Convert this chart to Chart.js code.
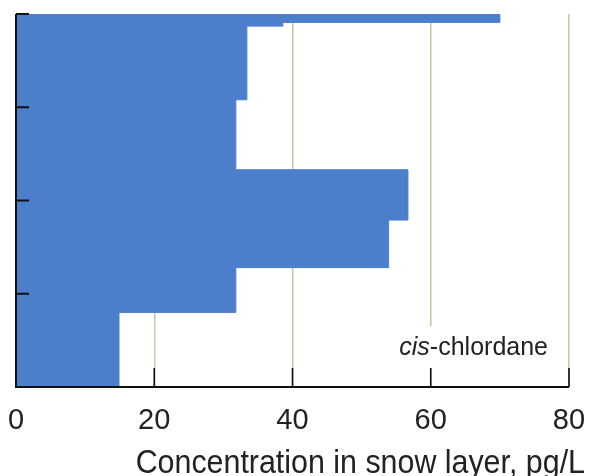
<!DOCTYPE html>
<html>
<head>
<meta charset="utf-8">
<script src="https://cdn.jsdelivr.net/npm/chart.js@4.4.1/dist/chart.umd.min.js"></script>
<style>
  html, body { margin: 0; padding: 0; background: #fff; }
  #wrap { width: 591px; height: 476px; position: relative; }
</style>
</head>
<body>
<div id="wrap"><canvas id="c"></canvas></div>
<script>
// Depth at the top of each snow layer, and the bottom of the profile
const layerTop = [0, 0.9, 1.3, 9.2, 16.7, 22.1, 27.2, 32.0];
const profileBottom = 40;
// cis-chlordane concentration in each layer, pg/L
const concentration = [70.0, 38.6, 33.4, 31.8, 56.7, 53.9, 31.8, 14.9];
// Axis ticks
const xTicks = [0, 20, 40, 60, 80];
const depthTicks = [0, 10, 20, 30];
const compoundLabel = ['cis', '-chlordane'];
const axisTitle = 'Concentration in snow layer, pg/L';

const FONT = '"Liberation Sans", Arial, Helvetica, sans-serif';
const BAR_BLUE = '#4b7fcc';
const GRID_BEIGE = '#c8c5a7';

// Stepped profile: one point at the top of every layer, plus the profile bottom
const profilePoints = layerTop.map((d, i) => ({ x: concentration[i], y: d }));
profilePoints.push({ x: concentration[concentration.length - 1], y: profileBottom });

// Axis lines, inward tick marks, the compound label and the axis title
const profileFrame = {
  id: 'profileFrame',
  afterDatasetsDraw(chart) {
    const { ctx, chartArea: a, scales: { x, y } } = chart;
    ctx.save();

    // compound label on a white box
    ctx.font = 'italic 25px ' + FONT;
    const w1 = ctx.measureText(compoundLabel[0]).width;
    ctx.font = '25px ' + FONT;
    const w2 = ctx.measureText(compoundLabel[1]).width;
    const right = a.right - 21;
    const base = a.bottom - 32;
    ctx.fillStyle = '#fff';
    ctx.fillRect(right - w1 - w2 - 6, a.bottom - 61, w1 + w2 + 12, 42);
    ctx.fillStyle = '#222';
    ctx.textBaseline = 'alphabetic';
    ctx.textAlign = 'left';
    ctx.font = 'italic 25px ' + FONT;
    ctx.fillText(compoundLabel[0], right - w1 - w2, base);
    ctx.font = '25px ' + FONT;
    ctx.fillText(compoundLabel[1], right - w2, base);

    // axis lines
    ctx.strokeStyle = '#111';
    ctx.lineWidth = 2;
    ctx.beginPath();
    ctx.moveTo(a.left, a.top);
    ctx.lineTo(a.left, a.bottom);
    ctx.lineTo(a.right, a.bottom);
    ctx.stroke();

    // depth ticks pointing into the plot
    ctx.beginPath();
    depthTicks.forEach(d => {
      const py = y.getPixelForValue(d);
      ctx.moveTo(a.left, py);
      ctx.lineTo(a.left + 13, py);
    });
    ctx.stroke();

    // concentration ticks pointing up
    ctx.lineWidth = 1.6;
    ctx.beginPath();
    xTicks.slice(1).forEach(v => {
      const px = x.getPixelForValue(v);
      ctx.moveTo(px, a.bottom);
      ctx.lineTo(px, a.bottom - 19);
    });
    ctx.stroke();
    ctx.restore();
  },
  afterDraw(chart) {
    const { ctx } = chart;
    ctx.save();
    ctx.font = '30.4px ' + FONT;
    ctx.fillStyle = '#222';
    ctx.textAlign = 'right';
    ctx.textBaseline = 'alphabetic';
    // slightly tall lettering for the axis title
    ctx.translate(chart.width - 6, chart.height - 3);
    ctx.scale(1, 1.1);
    ctx.fillText(axisTitle, 0, 0);
    ctx.restore();
  }
};

new Chart(document.getElementById('c'), {
  type: 'line',
  data: {
    datasets: [{
      data: profilePoints,
      stepped: 'after',
      fill: 'origin',
      backgroundColor: BAR_BLUE,
      borderColor: BAR_BLUE,
      borderWidth: 1,
      pointRadius: 0,
      pointHoverRadius: 0
    }]
  },
  options: {
    indexAxis: 'y',
    responsive: true,
    maintainAspectRatio: false,
    animation: false,
    layout: { padding: { left: 16, right: 22, top: 14, bottom: 0 } },
    plugins: { legend: { display: false }, tooltip: { enabled: false } },
    scales: {
      x: {
        type: 'linear',
        position: 'bottom',
        min: 0,
        max: 80,
        afterBuildTicks: s => { s.ticks = xTicks.map(v => ({ value: v })); },
        // fixed band below the plot for tick labels and the title
        afterFit: s => { s.paddingLeft = 0; s.paddingRight = 0; s.height = 89; },
        ticks: { font: { family: FONT, size: 29 }, color: '#222', padding: 17 },
        grid: { color: GRID_BEIGE, lineWidth: 1.5, drawTicks: false },
        border: { display: false }
      },
      y: {
        type: 'linear',
        reverse: true,
        min: 0,
        max: profileBottom,
        afterBuildTicks: s => { s.ticks = depthTicks.map(v => ({ value: v })); },
        afterFit: s => { s.width = 0; s.paddingTop = 0; s.paddingBottom = 0; },
        ticks: { display: false },
        grid: { display: false, drawTicks: false },
        border: { display: false }
      }
    }
  },
  plugins: [profileFrame]
});
</script>
</body>
</html>
